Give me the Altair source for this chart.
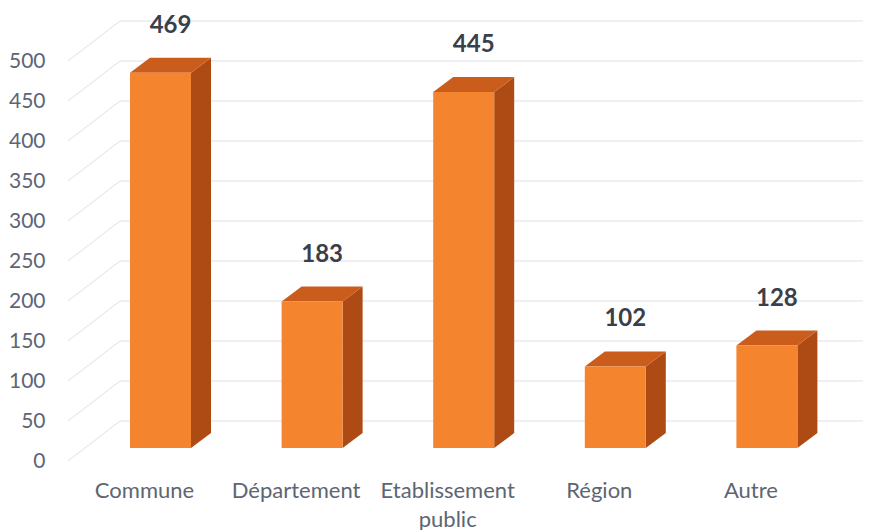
import altair as alt
import pandas as pd

# ---- data ----
categories = ["Commune", "Département", "Etablissement\npublic", "Région", "Autre"]
values = [469, 183, 445, 102, 128]
ticks = [0, 50, 100, 150, 200, 250, 300, 350, 400, 450, 500]

# ---- layout / style (pixels -> scale units) ----
PX_X = 151.6            # px per category step
PX_Y = 0.8              # px per value unit
X0_PAGE = 160.5         # page x of first bar centre
LEFT_PAGE, RIGHT_PAGE = 55, 863
Y0_PAGE = 461           # page y of value 0 (front plane)
TOP_PAGE, BOT_PAGE = 8, 530

XMIN = (LEFT_PAGE - X0_PAGE) / PX_X
XMAX = (RIGHT_PAGE - X0_PAGE) / PX_X
YMAX = (Y0_PAGE - TOP_PAGE) / PX_Y
YMIN = (Y0_PAGE - BOT_PAGE) / PX_Y

HW = 30.5 / PX_X        # half bar width
DDX = 20 / PX_X         # depth offset x
DDY = 15 / PX_Y         # depth offset y
BASE = 13 / PX_Y        # bar front bottom above front plane zero
WALL_DY = 40 / PX_Y     # back wall offset
WALL_LEFT = (120 - X0_PAGE) / PX_X
FLOOR_LEFT = (68 - X0_PAGE) / PX_X
LABEL_DX = -16 / PX_X
CAT_Y = -25.5

FRONT = "#F5842F"
TOPC = "#CB5D1C"
SIDE = "#AE4A14"
GRID = "#DCE1EA"
TXT = "#5d6573"
FONT = "Lato"

xs = alt.Scale(domain=[XMIN, XMAX], nice=False, zero=False)
ys = alt.Scale(domain=[YMIN, YMAX], nice=False, zero=False)
yaxis = alt.Axis(values=ticks, domain=False, ticks=False, grid=False, labelPadding=10,
                 labelFont=FONT, labelFontSize=21, labelColor=TXT, title=None)

# ---- tables built from arrays ----
front_rows, top_rows, side_rows, lab_rows, cat_rows = [], [], [], [], []
for i, (c, v) in enumerate(zip(categories, values)):
    T = BASE + v
    front_rows.append({"cat": c, "x1": i - HW, "x2": i + HW, "y1": BASE, "y2": T})
    for xx, yt, yb in [
        (i - HW, T, T),
        (i - HW + DDX, T + DDY, T),
        (i + HW, T + DDY, T),
        (i + HW + DDX, T + DDY, T + DDY),
    ]:
        top_rows.append({"cat": c, "x": xx, "yt": yt, "yb": yb})
    side_rows.append({"cat": c, "x": i + HW, "yt": T, "yb": BASE})
    side_rows.append({"cat": c, "x": i + HW + DDX, "yt": T + DDY, "yb": BASE + DDY})
    lab_rows.append({"cat": c, "x": i, "y": T, "label": str(v)})
    cat_rows.append({"cat": c, "x": i + LABEL_DX, "y": CAT_Y})

grid_rows = []
for t in ticks:
    grid_rows.append({"v": t, "xf": FLOOR_LEFT, "xb": WALL_LEFT, "xr": XMAX,
                      "yf": t, "yb": t + WALL_DY})

grid_df = pd.DataFrame(grid_rows)
front_df = pd.DataFrame(front_rows)
top_df = pd.DataFrame(top_rows)
side_df = pd.DataFrame(side_rows)
lab_df = pd.DataFrame(lab_rows)
cat_df = pd.DataFrame(cat_rows)

back_grid = alt.Chart(grid_df).mark_rule(color=GRID, strokeWidth=1).encode(
    x=alt.X("xb:Q", scale=xs, axis=None),
    x2="xr:Q",
    y=alt.Y("yb:Q", scale=ys, axis=yaxis),
)
side_grid = alt.Chart(grid_df).mark_rule(color=GRID, strokeWidth=1).encode(
    x=alt.X("xf:Q", scale=xs, axis=None),
    x2="xb:Q",
    y=alt.Y("yf:Q", scale=ys, axis=yaxis),
    y2="yb:Q",
)

front = alt.Chart(front_df).mark_rect(color=FRONT).encode(
    x=alt.X("x1:Q", scale=xs, axis=None), x2="x2:Q",
    y=alt.Y("y1:Q", scale=ys, axis=yaxis), y2="y2:Q",
)
top = alt.Chart(top_df).mark_area(color=TOPC, interpolate="linear").encode(
    x=alt.X("x:Q", scale=xs, axis=None),
    y=alt.Y("yt:Q", scale=ys, axis=yaxis), y2="yb:Q",
    detail="cat:N",
)
side = alt.Chart(side_df).mark_area(color=SIDE, interpolate="linear").encode(
    x=alt.X("x:Q", scale=xs, axis=None),
    y=alt.Y("yt:Q", scale=ys, axis=yaxis), y2="yb:Q",
    detail="cat:N",
)
labels = alt.Chart(lab_df).mark_text(
    font=FONT, fontSize=24, fontWeight="bold", color="#3a3f4a",
    dx=10, dy=-47, baseline="middle", align="center",
).encode(
    x=alt.X("x:Q", scale=xs, axis=None),
    y=alt.Y("y:Q", scale=ys, axis=yaxis),
    text="label:N",
)
cats = alt.Chart(cat_df).mark_text(
    font=FONT, fontSize=22, color=TXT, baseline="top", align="center",
    lineBreak="\n", lineHeight=29,
).encode(
    x=alt.X("x:Q", scale=xs, axis=None),
    y=alt.Y("y:Q", scale=ys, axis=yaxis),
    text="cat:N",
)

chart = alt.layer(back_grid, side_grid, side, top, front, labels, cats).properties(
    width=RIGHT_PAGE - LEFT_PAGE,
    height=BOT_PAGE - TOP_PAGE,
    autosize="none",
    padding={"left": LEFT_PAGE - 8, "top": 0, "right": 0, "bottom": 0},
    background="white",
).configure_view(stroke=None)

chart.save("out.html", embed_options={"renderer": "svg", "actions": False})
